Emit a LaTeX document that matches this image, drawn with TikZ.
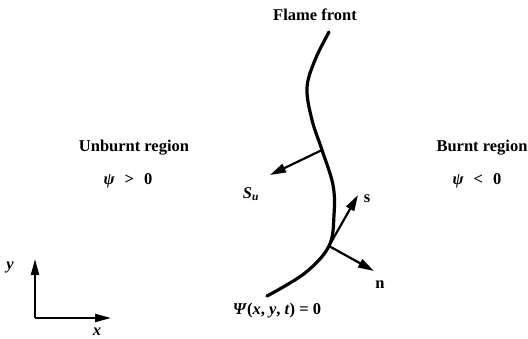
\documentclass[tikz,border=0pt]{standalone}
\usepackage{fontspec}
\setmainfont{Liberation Serif}
\usetikzlibrary{arrows.meta}
\begin{document}
\begin{tikzpicture}[x=1pt,y=-1pt,
  lbl/.style={font=\fontsize{16.5}{19}\selectfont\bfseries, inner sep=0pt},
  vec/.style={line width=2.2pt, -{Triangle[length=16pt,width=9pt]}},
  axis/.style={line width=2pt, -{Triangle[length=16pt,width=8pt]}},
  front/.style={line width=3.2pt, line cap=round}]
\useasboundingbox (0,0) rectangle (528,338);
% flame front
\coordinate (top) at (329,32);
\coordinate (pSu) at (322,150);
\coordinate (pSn) at (329,246);
\coordinate (bot) at (267,296);
\draw[front] plot[smooth, tension=0.6] coordinates {(329,32) (315,60) (307,88) (312,120) (322,150) (333,185) (334,215) (329,246) (305,273) (267,296)};
% vectors
\coordinate (suEnd) at (270,175);
\coordinate (sEnd) at (358,195);
\coordinate (nEnd) at (374,271);
\draw[vec] (pSu) -- (suEnd);
\draw[vec] (pSn) -- (sEnd);
\draw[vec] (pSn) -- (nEnd);
% labels
\node[lbl] (ff) at (315,15) {Flame front};
\node[lbl] (ub) at (134,148) {Unburnt region};
\node[lbl] (bb) at (482,148) {Burnt region};
\node[lbl] (pp) at (128,181) {\textit{ψ}\hspace{0.6em}>\hspace{0.6em}0};
\node[lbl] (pm) at (477,181) {\textit{ψ}\hspace{0.6em}<\hspace{0.6em}0};
\node[lbl] (su) at (251,194) {\textit{S}\textsubscript{\textit{u}}};
\node[lbl] (s) at (367,199) {s};
\node[lbl] (n) at (380,285) {n};
\node[lbl] (eq) at (277,311) {\textit{Ψ}(\textit{x}, \textit{y}, \textit{t}) = 0};
% axes
\coordinate (o) at (35,318);
\coordinate (yEnd) at (35,259);
\coordinate (xEnd) at (111,318);
\draw[axis] (o) -- (yEnd);
\draw[axis] (o) -- (xEnd);
\node[lbl] (ylab) at (10,267) {\textit{y}};
\node[lbl] (xlab) at (97,332) {\textit{x}};
\end{tikzpicture}
\end{document}
